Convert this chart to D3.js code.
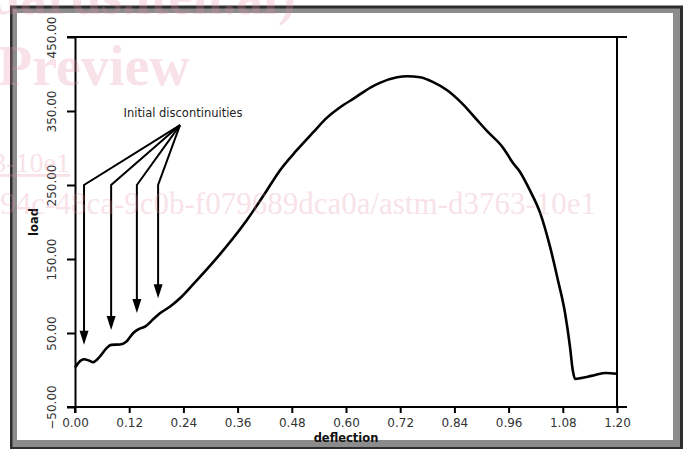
<!DOCTYPE html>
<html>
<head>
<meta charset="utf-8">
<script src="https://cdn.jsdelivr.net/npm/d3@7"></script>
<style>
  html, body { margin: 0; padding: 0; background: #fff; }
  svg { display: block; }
</style>
</head>
<body>
<svg id="chart" width="686" height="449"></svg>
<script>
// ---- data ----
const deflection = [0, 0.008, 0.02, 0.03, 0.04, 0.055, 0.07, 0.08, 0.10, 0.114, 0.129, 0.14, 0.155, 0.173, 0.188, 0.21, 0.236, 0.262, 0.305, 0.381, 0.425, 0.454, 0.491, 0.527, 0.558, 0.587, 0.62, 0.655, 0.675, 0.713, 0.735, 0.764, 0.793, 0.824, 0.859, 0.89, 0.912, 0.948, 0.962, 0.967, 0.985, 1.007, 1.03, 1.052, 1.069, 1.085, 1.096, 1.102, 1.107, 1.12, 1.135, 1.15, 1.175, 1.2];
const load = [3, 10, 14.5, 13, 10.5, 18, 29.6, 34, 34.5, 38.5, 50, 55, 58.5, 68.5, 76.6, 85.5, 99, 116, 145, 203, 243, 270, 297, 321, 341, 355, 368, 382, 388, 395.5, 397, 395.5, 389, 378, 359, 338, 323, 300, 287, 282, 268, 243, 212, 166, 122, 77, 31, 0, -12, -11, -9, -7, -4, -5];

const xTicks = [0, 0.12, 0.24, 0.36, 0.48, 0.60, 0.72, 0.84, 0.96, 1.08, 1.20];
const yTicks = [-50, 50, 150, 250, 350, 450];

// annotation: arrow targets
const arrowDeflection = [0.02, 0.08, 0.137, 0.184];
const arrowTipLoad = [34, 54, 77, 97];
const arrowBendLoad = 250;
const hubDeflection = 0.2325, hubLoad = 331;
const annotationText = "Initial discontinuities";

// ---- layout ----
const svg = d3.select("#chart");
const x = d3.scaleLinear().domain([0, 1.2]).range([75, 617]);
const y = d3.scaleLinear().domain([-50, 450]).range([407, 37]);

// frame
svg.append("rect").attr("x", 10).attr("y", 5.5).attr("width", 673).attr("height", 450).attr("fill", "#2e2e2e");
svg.append("rect").attr("x", 12.5).attr("y", 8.5).attr("width", 667.5).attr("height", 438.5).attr("fill", "#8c8c8c");
svg.append("rect").attr("x", 17).attr("y", 13).attr("width", 656).attr("height", 427).attr("fill", "#fff");

const g = svg.append("g");
const fontFam = "'DejaVu Sans', Verdana, sans-serif";

// frame lines of plot
const [x0, x1] = x.range();
const [yb, yt] = y.range();
g.append("line").attr("x1", x0 - 8).attr("x2", x1 + 10).attr("y1", yt).attr("y2", yt).attr("stroke", "#000").attr("stroke-width", 2);
g.append("line").attr("x1", x0 - 8).attr("x2", x1 + 10).attr("y1", yb).attr("y2", yb).attr("stroke", "#000").attr("stroke-width", 2);
g.append("line").attr("x1", x1).attr("x2", x1).attr("y1", yt).attr("y2", yb).attr("stroke", "#000").attr("stroke-width", 2);

// left axis
const yAxis = d3.axisLeft(y).tickValues(yTicks).tickSize(8).tickSizeOuter(0).tickFormat(d3.format(".2f"));
const ya = g.append("g").attr("transform", `translate(${x0},0)`).call(yAxis);
ya.select(".domain").attr("stroke", "#000").attr("stroke-width", 2);
ya.selectAll(".tick line").attr("stroke", "#000").attr("stroke-width", 2);
ya.selectAll(".tick text")
  .attr("x", null).attr("dy", null)
  .attr("transform", "translate(-19,0) rotate(-90)")
  .attr("text-anchor", "middle")
  .attr("fill", "#333")
  .style("font-family", fontFam).style("font-size", "12px");

// bottom axis
const xAxis = d3.axisBottom(x).tickValues(xTicks).tickSize(6).tickSizeOuter(0).tickFormat(d3.format(".2f"));
const xa = g.append("g").attr("transform", `translate(0,${yb})`).call(xAxis);
xa.select(".domain").remove();
xa.selectAll(".tick line").attr("stroke", "#000").attr("stroke-width", 2);
xa.selectAll(".tick text")
  .attr("y", 20).attr("dy", null)
  .attr("fill", "#333")
  .style("font-family", fontFam).style("font-size", "12px");
// extend left axis line down to the 0 tick
g.append("line").attr("x1", x0).attr("x2", x0).attr("y1", yb).attr("y2", yb + 6).attr("stroke", "#000").attr("stroke-width", 2);

// axis titles
g.append("text").attr("x", (x0 + x1) / 2).attr("y", 442).attr("text-anchor", "middle")
  .style("font-family", fontFam).style("font-size", "11.5px").style("font-weight", "bold").attr("fill", "#111").text("deflection");
g.append("text").attr("transform", `translate(38,${(yt + yb) / 2}) rotate(-90)`).attr("text-anchor", "middle")
  .style("font-family", fontFam).style("font-size", "11.5px").style("font-weight", "bold").attr("fill", "#111").text("load");

// curve
const pts = deflection.map((d, i) => [d, load[i]]);
g.append("path").datum(pts)
  .attr("fill", "none").attr("stroke", "#000").attr("stroke-width", 2.6).attr("stroke-linejoin", "round")
  .attr("d", d3.line().x(d => x(d[0])).y(d => y(d[1])).curve(d3.curveMonotoneX));

// annotation
const hx = x(hubDeflection), hy = y(hubLoad);
g.append("text").attr("x", hx + 3).attr("y", hy - 8).attr("text-anchor", "middle")
  .style("font-family", fontFam).style("font-size", "11.5px").attr("fill", "#222").text(annotationText);
arrowDeflection.forEach((d, i) => {
  const ax = x(d), tip = y(arrowTipLoad[i]), bend = y(arrowBendLoad);
  const headLen = 14, headW = 4.5;
  g.append("path")
    .attr("d", `M${hx},${hy} L${ax},${bend} L${ax},${tip - headLen + 2}`)
    .attr("fill", "none").attr("stroke", "#000").attr("stroke-width", 2).attr("stroke-linejoin", "miter");
  g.append("path")
    .attr("d", `M${ax - headW},${tip - headLen} L${ax + headW},${tip - headLen} L${ax},${tip} Z`)
    .attr("fill", "#000");
});

// faint watermark from the source page
const wm = svg.append("g").attr("fill", "#e58fa8").attr("opacity", 0.25).style("font-family", "'Liberation Serif', serif");
wm.append("text").attr("x", 296).attr("y", 14).attr("text-anchor", "end").style("font-size", "54px").style("font-weight", "bold").text("(standards.iteh.ai)");
wm.append("text").attr("x", -2).attr("y", 85).style("font-size", "56px").style("font-weight", "bold").text("Preview");
wm.append("text").attr("x", 70).attr("y", 172).attr("text-anchor", "end").style("font-size", "28px").attr("text-decoration", "underline").text("D3763-10e1");
wm.append("text").attr("x", 596).attr("y", 214).attr("text-anchor", "end").style("font-size", "31px").text("sist/5c8c2a0f-b94c-48ca-9c0b-f079689dca0a/astm-d3763-10e1");
</script>
</body>
</html>
